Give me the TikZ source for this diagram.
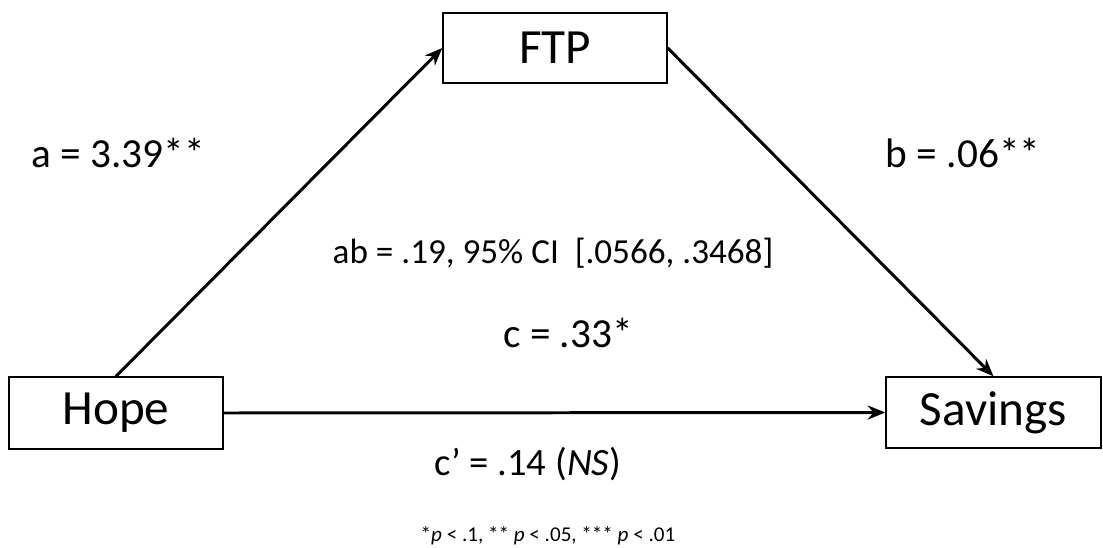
\documentclass[tikz,border=0pt]{standalone}
\usepackage{fontspec}
\setmainfont{Carlito}
\usetikzlibrary{arrows.meta}
\begin{document}
\begin{tikzpicture}[x=0.02cm,y=-0.02cm,
  var/.style={draw,line width=0.8pt,minimum width=#1,inner sep=0pt,
    font=\fontsize{28}{30}\selectfont},
  path/.style={line width=1.7pt,-{Stealth[length=10pt,width=8pt]}},
  coef/.style={anchor=base,font=\fontsize{23.5}{26}\selectfont}]
\useasboundingbox (0,0) rectangle (1103,548);

\node[var=224*0.02cm,minimum height=70*0.02cm] (ftp) at (555,48) {FTP};
\node[var=214*0.02cm,minimum height=72*0.02cm] (hope) at (116,413) {Hope};
\node[var=215*0.02cm,minimum height=71*0.02cm] (sav) at (993.5,412.5) {Savings};

\draw[path] (hope.north) -- (ftp.west);
\draw[path] (ftp.east) -- (sav.north);
\draw[path] (hope.east) -- (sav.west);

\node[coef] (a) at (118,167) {a = 3.39**};
\node[coef] (b) at (963,167) {b = .06**};
\node[coef,font=\fontsize{20}{22}\selectfont] (ab) at (553,263) {ab = .19, 95\% CI \ [.0566, .3468]};
\node[coef] (c) at (568,347) {c = .33*};
\node[coef,font=\fontsize{22}{24}\selectfont] (cp) at (528,475) {c’ = .14 (\textit{NS})};
\node[coef,font=\fontsize{12}{14}\selectfont] (note) at (548,541) {*\textit{p} < .1, ** \textit{p} < .05, *** \textit{p} < .01};
\end{tikzpicture}
\end{document}
